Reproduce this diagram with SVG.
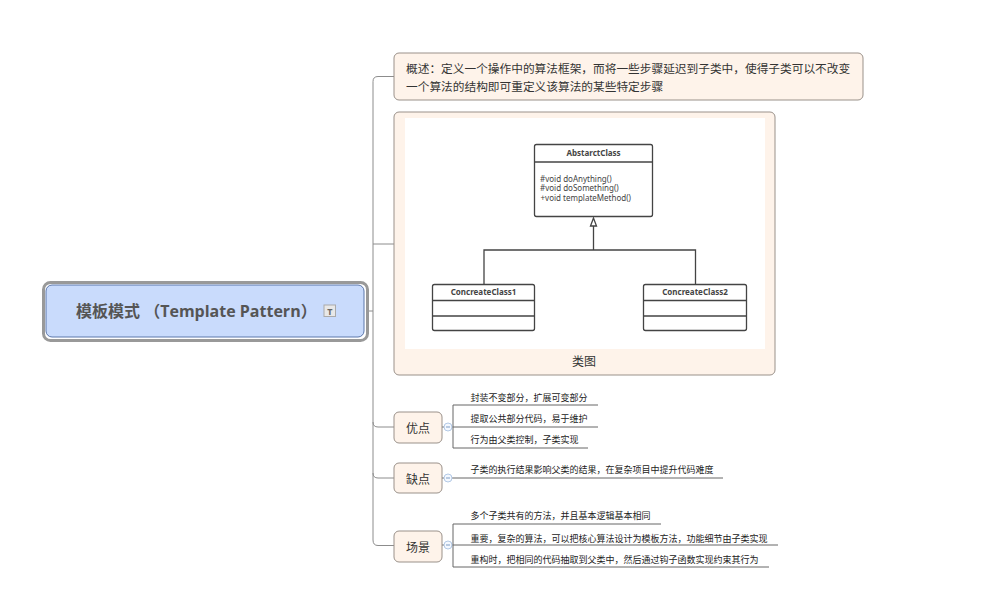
<svg xmlns="http://www.w3.org/2000/svg" width="982" height="608" viewBox="0 0 982 608">
<style>
text{font-family:"Open Sans","Noto Sans CJK SC",sans-serif}
.zh{font-family:"Noto Sans CJK SC",sans-serif}
.box{fill:#fef3ea;stroke:#9a918a;stroke-width:1}
.main{font-size:11.7px;fill:#333}
.topic{font-size:12px;fill:#333;text-anchor:middle}
.leaf{font-size:9px;fill:#222}
.conn{fill:none;stroke:#8c8c8c;stroke-width:1}
.under{fill:none;stroke:#666;stroke-width:1}
.tog{fill:#f4f8fe;stroke:#b3c9e6;stroke-width:1}
.uml{fill:#fff;stroke:#444;stroke-width:1.3}
.line{fill:none;stroke:#444;stroke-width:1.3}
.cn{font-size:8px;font-weight:700;fill:#444;text-anchor:middle;font-family:"Noto Sans",sans-serif}
.mt{font-size:8px;fill:#444;font-family:"Noto Sans",sans-serif}
</style>
<g id="connectors">
<path class="conn" d="M368 311H373M394 76.500H378Q373 76.500 373 81.500V540Q373 545.500 378 545.500H394M373 244H394M373 422Q373 427 378 427H394M373 473Q373 478 378 478H394"/>
<path class="under" d="M442 427H453M453 405H598M453 427H598M453 448H588M453 405V448"/>
<path class="under" d="M442 478H723"/>
<path class="under" d="M442 545H778M453 524H661M453 567H769M453 524V567"/>
</g>
<g id="root">
<rect x="43.500" y="282.500" width="324" height="58" rx="7" fill="#fff" stroke="#999" stroke-width="3"/>
<rect x="46" y="285" width="318" height="52" rx="6" fill="#c9dbfc" stroke="#5a76ab"/>
<text x="76" y="316.500" font-size="16" font-weight="700" fill="#555">模板模式 （Template Pattern）</text>
<rect x="324" y="305" width="11.500" height="11.500" fill="#e8e8e8" stroke="#aaa"/>
<text x="329.800" y="314.500" font-size="9" font-weight="700" fill="#666" text-anchor="middle">T</text>
</g>
<g id="overview">
<rect class="box" x="394" y="53" width="469" height="47" rx="5"/>
<text class="main zh" x="406" y="73">概述：定义一个操作中的算法框架，而将一些步骤延迟到子类中，使得子类可以不改变</text>
<text class="main zh" x="406" y="90.500">一个算法的结构即可重定义该算法的某些特定步骤</text>
</g>
<g id="class-diagram">
<rect class="box" x="394" y="112" width="381" height="263" rx="5"/>
<rect x="405" y="118" width="360" height="231" fill="#fff"/>
<text class="topic zh" x="584" y="366">类图</text>
<path class="line" d="M593.500 226V250M484 284V250H695.500V284"/>
<path class="line" fill="#fff" d="M593.500 218L590.500 226H596.500Z"/>
<g id="abstract-class">
<rect class="uml" x="534.500" y="144.500" width="118" height="72" rx="2"/>
<path class="line" d="M534.500 162H652.500"/>
<text class="cn" x="593.500" y="156">AbstarctClass</text>
<text class="mt" x="540" y="182">#void doAnything()</text>
<text class="mt" x="540" y="191">#void doSomething()</text>
<text class="mt" x="540.500" y="200.500">+void templateMethod()</text>
</g>
<g id="concrete-class-1">
<rect class="uml" x="432.500" y="284.500" width="102" height="46" rx="2"/>
<path class="line" d="M432.500 300.500H534.500M432.500 316H534.500"/>
<text class="cn" x="483.500" y="295">ConcreateClass1</text>
</g>
<g id="concrete-class-2">
<rect class="uml" x="643.500" y="284.500" width="103" height="46" rx="2"/>
<path class="line" d="M643.500 300.500H746.500M643.500 316H746.500"/>
<text class="cn" x="695" y="295">ConcreateClass2</text>
</g>
</g>
<g id="pros">
<rect class="box" x="394" y="412" width="48" height="31" rx="5"/>
<text class="topic zh" x="418" y="433">优点</text>
<circle class="tog" cx="448" cy="427" r="4"/><path d="M446 427H450" stroke="#7f9cc4"/>
<text class="leaf zh" x="470.500" y="400.500">封装不变部分，扩展可变部分</text>
<text class="leaf zh" x="470.500" y="422">提取公共部分代码，易于维护</text>
<text class="leaf zh" x="470.500" y="443">行为由父类控制，子类实现</text>
</g>
<g id="cons">
<rect class="box" x="394" y="463" width="48" height="30" rx="5"/>
<text class="topic zh" x="418" y="484">缺点</text>
<circle class="tog" cx="448" cy="478" r="4"/><path d="M446 478H450" stroke="#7f9cc4"/>
<text class="leaf zh" x="470.500" y="473">子类的执行结果影响父类的结果，在复杂项目中提升代码难度</text>
</g>
<g id="scenes">
<rect class="box" x="394" y="531" width="48" height="31" rx="5"/>
<text class="topic zh" x="418" y="551.500">场景</text>
<circle class="tog" cx="448" cy="545" r="4"/><path d="M446 545H450" stroke="#7f9cc4"/>
<text class="leaf zh" x="470.500" y="519">多个子类共有的方法，并且基本逻辑基本相同</text>
<text class="leaf zh" x="470.500" y="541.500">重要，复杂的算法，可以把核心算法设计为模板方法，功能细节由子类实现</text>
<text class="leaf zh" x="470.500" y="562.500">重构时，把相同的代码抽取到父类中，然后通过钩子函数实现约束其行为</text>
</g>
</svg>
